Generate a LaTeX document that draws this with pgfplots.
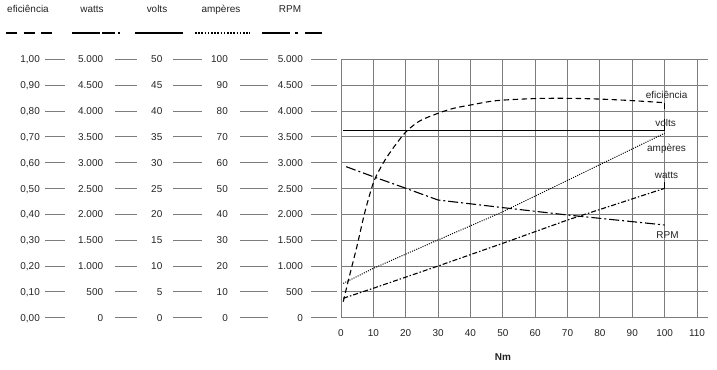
\documentclass[border=0pt]{standalone}
\usepackage{fontspec}
\setmainfont{Liberation Sans}
\usepackage{pgfplots}
\pgfplotsset{compat=1.18}
\usepackage{pgfplotstable}

% efficiency (fraction) vs torque
\pgfplotstableread{
x eff
0.7 0.062
2.3 0.146
4.9 0.275
7.4 0.410
10 0.522
12 0.575
14.1 0.620
17.2 0.675
20.3 0.722
24.4 0.762
30 0.791
34.7 0.810
40 0.823
48 0.840
60 0.848
70 0.849
80 0.846
90 0.840
100 0.832
}\effdata
% volts
\pgfplotstableread{
x v
0.7 36.3
100 36.3
}\voltdata
% amperes
\pgfplotstableread{
x a
0.7 13.3
10 19.1
30 30.1
50 41.0
100 71.4
}\ampdata
% watts
\pgfplotstableread{
x w
0.7 375
10 570
30 1000
50 1440
70 1890
100 2503
}\wattdata
% rpm
\pgfplotstableread{
x rpm
1.6 2922
10 2728
20 2504
30 2277
50 2130
70 1987
100 1794
}\rpmdata

\definecolor{gridgray}{RGB}{125,125,125}
\definecolor{txt}{RGB}{35,35,35}
\newcommand{\tf}{\fontsize{10}{12}\selectfont}

\pgfplotsset{
  scalecol/.style={
    scale only axis, anchor=south west, height=258.4bp,
    xmin=0, xmax=1, ymin=0, xtick=\empty,
    ymajorgrids, major grid style={gridgray, line width=0.8bp},
    axis line style={draw=none}, major tick length=0,
    yticklabel style={anchor=east, inner sep=0pt, font=\tf, text=txt,
      text height=7.2bp, text depth=0pt},
    /pgf/number format/assume math mode=true,
    scaled y ticks=false, clip=false
  }
}

\begin{document}
\begin{tikzpicture}
\path[use as bounding box] (0bp,0bp) rectangle (717bp,370bp);

% eficiencia scale
\begin{axis}[scalecol, at={(45bp,52.3bp)}, width=20bp, ymax=1,
  ytick={0,0.1,0.2,0.3,0.4,0.5,0.6,0.7,0.8,0.9,1.0},
  yticklabel style={xshift=-5bp, /pgf/number format/.cd, fixed, fixed zerofill, precision=2, use comma}]
\addplot[draw=none] coordinates {(0,0)};
\end{axis}
% watts scale
\begin{axis}[scalecol, at={(115bp,52.3bp)}, width=22bp, ymax=5000,
  ytick={0,500,...,5000},
  yticklabel style={xshift=-11.7bp, /pgf/number format/.cd, fixed, 1000 sep={.}}]
\addplot[draw=none] coordinates {(0,0)};
\end{axis}
% volts scale
\begin{axis}[scalecol, at={(173bp,52.3bp)}, width=29bp, ymax=50,
  ytick={0,5,...,50},
  yticklabel style={xshift=-10.5bp}]
\addplot[draw=none] coordinates {(0,0)};
\end{axis}
% amperes scale
\begin{axis}[scalecol, at={(240bp,52.3bp)}, width=28bp, ymax=100,
  ytick={0,10,...,100},
  yticklabel style={xshift=-12bp}]
\addplot[draw=none] coordinates {(0,0)};
\end{axis}
% RPM scale
\begin{axis}[scalecol, at={(311bp,52.3bp)}, width=26bp, ymax=5000,
  ytick={0,500,...,5000},
  yticklabel style={xshift=-8bp, /pgf/number format/.cd, fixed, 1000 sep={.}}]
\addplot[draw=none] coordinates {(0,0)};
\end{axis}

% main chart
\begin{axis}[scale only axis, at={(341bp,52.3bp)}, anchor=south west,
  width=367.3bp, height=258.4bp,
  xmin=0, xmax=113.5, ymin=0, ymax=5000,
  xtick={0,10,...,110}, ytick={0,500,...,5000}, yticklabels={},
  grid=major, major grid style={gridgray, line width=0.8bp},
  axis line style={draw=none}, major tick length=0,
  xticklabel style={anchor=north, inner sep=0pt, yshift=-12bp, font=\tf, text=txt},
  /pgf/number format/assume math mode=true,
  scaled ticks=false, clip=false]
\addplot[black, line width=1.1bp, dash pattern=on 5.5bp off 3.5bp, smooth, tension=0.5]
  table[x=x, y expr=\thisrow{eff}*5000] {\effdata};
\addplot[black, line width=1.1bp] table[x=x, y expr=\thisrow{v}*100] {\voltdata};
\addplot[black, line width=1bp, dash pattern=on 1bp off 1.3bp]
  table[x=x, y expr=\thisrow{a}*50] {\ampdata};
\addplot[black, line width=1.1bp, dash pattern=on 5bp off 2bp on 1.5bp off 2bp]
  table[x=x, y=w] {\wattdata};
\addplot[black, line width=1.1bp, dash pattern=on 10bp off 3bp on 2bp off 3bp]
  table[x=x, y=rpm] {\rpmdata};
% label leaders
\draw[black, line width=0.9bp] (axis cs:100,3630) -- (axis cs:100,3850);
\draw[black, line width=0.9bp] (axis cs:100,2503) -- (axis cs:100,2630);
\draw[black, line width=0.9bp] (axis cs:100,4160) -- (axis cs:100,4040);
\node[anchor=base, font=\tf, text=txt] at (axis cs:100.6,4245) {eficiência};
\node[anchor=base, font=\tf, text=txt] at (axis cs:100.3,3696) {volts};
\node[anchor=base, font=\tf, text=txt] at (axis cs:100.6,3212) {ampères};
\node[anchor=base, font=\tf, text=txt] at (axis cs:100.6,2697) {watts};
\node[anchor=base, font=\tf, text=txt] at (axis cs:100.9,1536) {RPM};
\end{axis}

% x label
\node[anchor=base, font=\tf\bfseries, text=txt] at (503bp,10bp) {Nm};

% scale headers
\node[anchor=base, font=\tf, text=txt] at (28bp,357bp) {eficiência};
\node[anchor=base, font=\tf, text=txt] at (92bp,357bp) {watts};
\node[anchor=base, font=\tf, text=txt] at (157bp,357bp) {volts};
\node[anchor=base, font=\tf, text=txt] at (221bp,357bp) {ampères};
\node[anchor=base, font=\tf, text=txt] at (290bp,357bp) {RPM};

% line style samples
\draw[black, line width=2.2bp, dash pattern=on 11bp off 6.5bp] (6bp,337bp) -- (52bp,337bp);
\draw[black, line width=2.2bp, dash pattern=on 28bp off 2bp on 13bp off 3bp on 2bp off 10bp] (72bp,337bp) -- (120bp,337bp);
\draw[black, line width=2.2bp] (135bp,337bp) -- (183bp,337bp);
\draw[black, line width=2.2bp, dash pattern=on 1.6bp off 1.6bp] (195bp,337bp) -- (250bp,337bp);
\draw[black, line width=2.2bp, dash pattern=on 28bp off 5bp on 3bp off 7bp on 17bp off 5bp] (262bp,337bp) -- (322bp,337bp);
\end{tikzpicture}
\end{document}
